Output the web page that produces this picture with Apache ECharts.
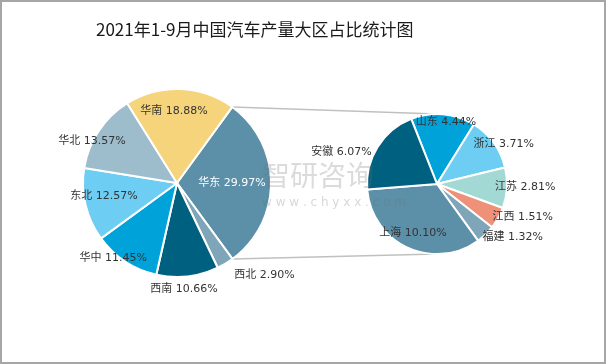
<!DOCTYPE html>
<html>
<head>
<meta charset="utf-8">
<script src="https://cdn.jsdelivr.net/npm/echarts@6/dist/echarts.min.js"></script>
<style>
html,body{margin:0;padding:0;background:#fff;}
#c{width:606px;height:364px;}
</style>
</head>
<body>
<div id="c"></div>
<script>
// ---- data ----
const titleText = '2021年1-9月中国汽车产量大区占比统计图';
const regionNames = ['华东', '西北', '西南', '华中', '东北', '华北', '华南'];
const regionValues = [29.97, 2.90, 10.66, 11.45, 12.57, 13.57, 18.88];
const eastNames = ['山东', '浙江', '江苏', '江西', '福建', '上海', '安徽'];
const eastValues = [4.44, 3.71, 2.81, 1.51, 1.32, 10.10, 6.07];

// ---- styles / layout ----
const regionColors = ['#5b90a8', '#7ea6b8', '#006080', '#00a3d9', '#6dcdf2', '#9dbdcc', '#f6d47c'];
const eastColors = ['#00a3d9', '#6dcdf2', '#a2d9d4', '#ef9179', '#7ea6b8', '#5b90a8', '#006080'];
const L = {cx: 177, cy: 183, r: 94, start: 36};     // start: clockwise degrees from 12 o'clock
const R = {cx: 437, cy: 184, r: 70, start: 338.4};
// label placement: angular shift from slice mid-angle (deg) and radius factor
const regionLabelShift = [0, -12.7, 2.7, 7, 3.4, -7.3, -4.4];
const regionLabelRad = [0.585, 1.35, 1.13, 1.05, 0.79, 1.01, 0.77];
const eastLabelShift = [3.2, 5.2, -1.2, -8.2, -11.3, 1.3, -13.5];
const eastLabelRad = [0.89, 1.11, 1.26, 1.31, 1.32, 0.78, 1.44];
const labelFont = "'DejaVu Sans', 'Noto Sans CJK SC', sans-serif";

function midAngles(values, start) {
  const total = values.reduce((a, b) => a + b, 0);
  const out = [];
  let acc = start;
  values.forEach(v => { const a = v / total * 360; out.push(acc + a / 2); acc += a; });
  return out;
}
function pt(g, ang, rr) {
  const t = ang * Math.PI / 180;
  return [g.cx + rr * Math.sin(t), g.cy - rr * Math.cos(t)];
}
const leftMid = midAngles(regionValues, L.start);
const rightMid = midAngles(eastValues, R.start);

function makeLayout(g, mids, shift, rad) {
  return function (p) {
    const i = p.dataIndex;
    const q = pt(g, mids[i] + shift[i], g.r * rad[i]);
    return {x: q[0], y: q[1], align: 'center', verticalAlign: 'middle'};
  };
}
function fmt(p) { return p.name + ' ' + Number(p.value).toFixed(2) + '%'; }

const totalL = regionValues.reduce((a, b) => a + b, 0);
const eastEnd = L.start + regionValues[0] / totalL * 360;
const topA = pt(L, L.start, L.r), botA = pt(L, eastEnd, L.r);
const topB = [R.cx, R.cy - R.r], botB = [R.cx, R.cy + R.r];

const chart = echarts.init(document.getElementById('c'), null, {renderer: 'canvas'});
chart.setOption({
  animation: false,
  backgroundColor: '#fff',
  title: {
    text: titleText, left: 91, top: 16,
    textStyle: {fontFamily: "'Noto Sans CJK SC', serif", fontSize: 17, fontWeight: 'normal', color: '#1a1a1a'}
  },
  graphic: [
    {type: 'rect', shape: {x: 1, y: 1, width: 604, height: 362}, style: {fill: 'none', stroke: '#a6a6a6', lineWidth: 2}, z: 100, silent: true},
    {type: 'line', shape: {x1: topA[0], y1: topA[1], x2: topB[0], y2: topB[1]}, style: {stroke: '#c0c0c0', lineWidth: 1.5}, z: 0},
    {type: 'line', shape: {x1: botA[0], y1: botA[1], x2: botB[0], y2: botB[1]}, style: {stroke: '#c0c0c0', lineWidth: 1.5}, z: 0},
    {type: 'text', left: 262, top: 161, z: 50, silent: true, style: {text: '智研咨询', font: "28px 'Noto Sans CJK SC'", fill: 'rgba(110,110,110,0.25)'}},
    {type: 'text', left: 262, top: 197, z: 50, silent: true, style: {text: 'w w w . c h y x x . c o m', font: "12px 'DejaVu Sans'", fill: 'rgba(110,110,110,0.28)'}}
  ],
  series: [
    {
      type: 'pie', center: [L.cx, L.cy], radius: L.r, startAngle: 90 - L.start, clockwise: true,
      avoidLabelOverlap: false,
      data: regionNames.map((n, i) => ({name: n, value: regionValues[i], itemStyle: {color: regionColors[i]},
        label: {color: i === 0 ? '#ffffff' : '#333333'}})),
      itemStyle: {borderColor: '#fff', borderWidth: 2},
      label: {show: true, position: 'inside', formatter: fmt, fontFamily: labelFont, fontSize: 11},
      labelLine: {show: false},
      labelLayout: makeLayout(L, leftMid, regionLabelShift, regionLabelRad),
      emphasis: {disabled: true}
    },
    {
      type: 'pie', center: [R.cx, R.cy], radius: R.r, startAngle: 90 - R.start, clockwise: true,
      avoidLabelOverlap: false,
      data: eastNames.map((n, i) => ({name: n, value: eastValues[i], itemStyle: {color: eastColors[i]}})),
      itemStyle: {borderColor: '#fff', borderWidth: 2},
      label: {show: true, position: 'inside', formatter: fmt, fontFamily: labelFont, fontSize: 11, color: '#333333'},
      labelLine: {show: false},
      labelLayout: makeLayout(R, rightMid, eastLabelShift, eastLabelRad),
      emphasis: {disabled: true}
    }
  ]
});
</script>
</body>
</html>
